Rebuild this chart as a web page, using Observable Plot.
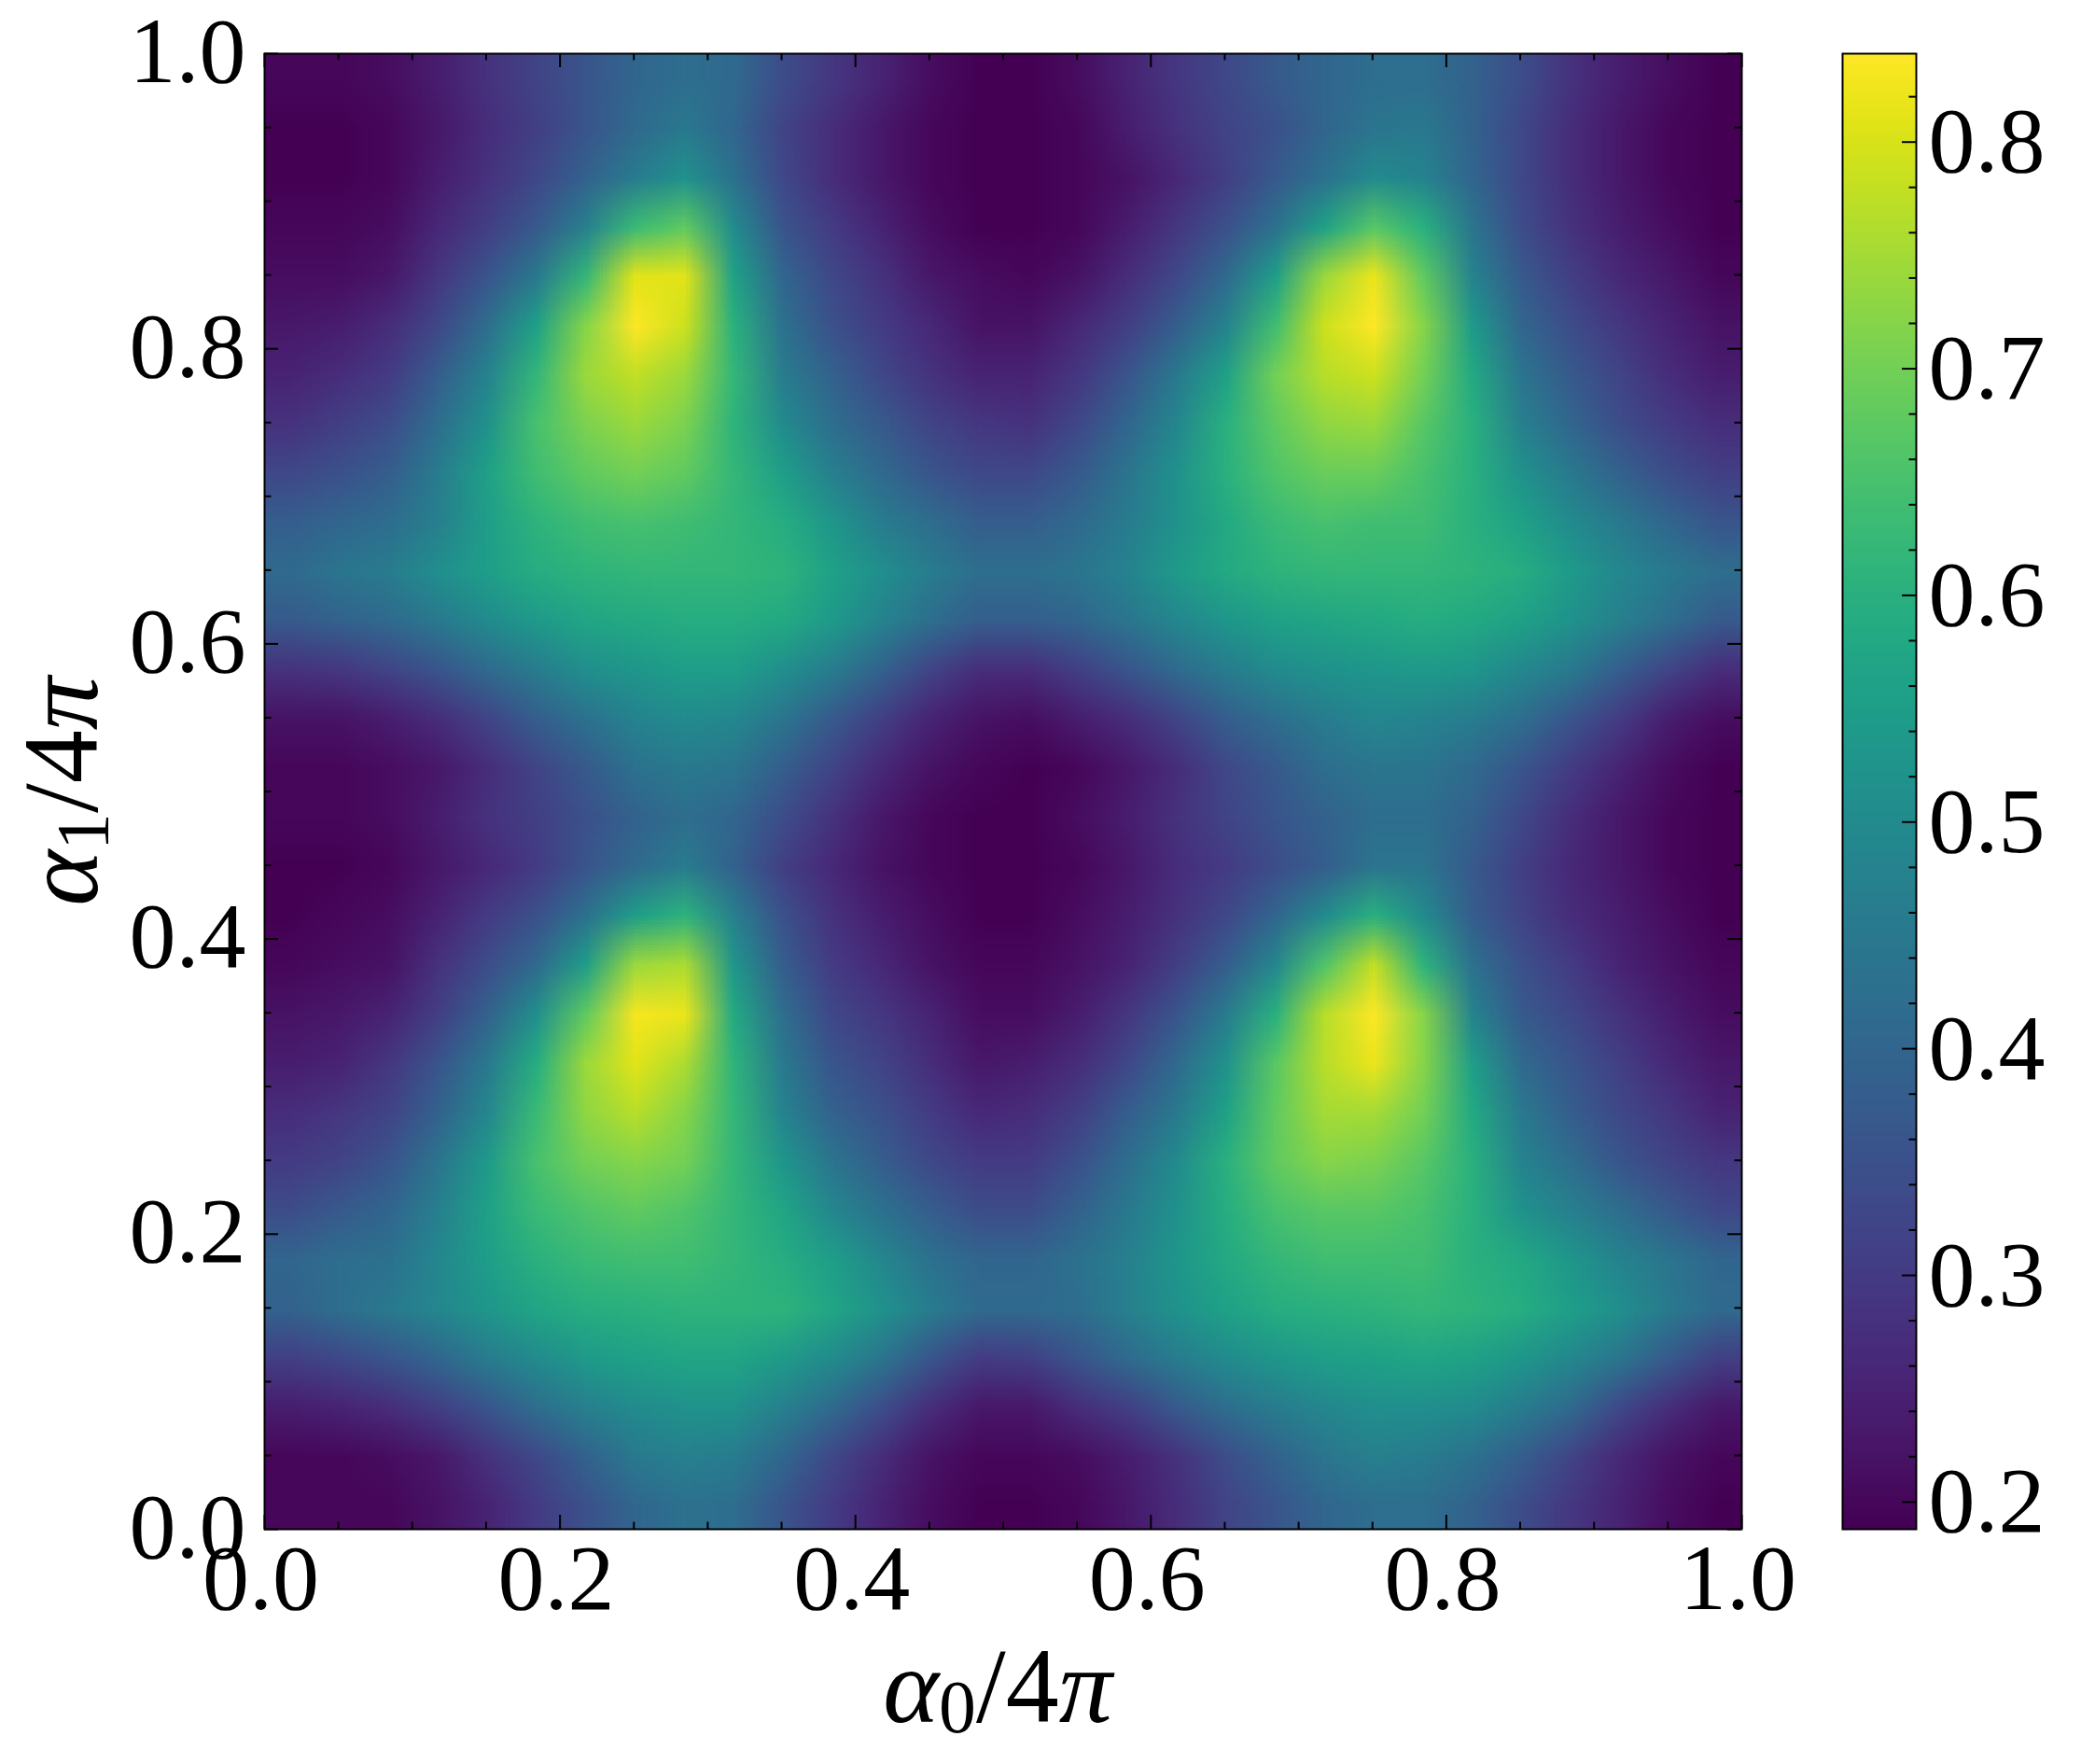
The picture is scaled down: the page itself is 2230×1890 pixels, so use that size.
<!DOCTYPE html>
<html>
<head>
<meta charset="utf-8">
<script src="https://cdn.jsdelivr.net/npm/d3@7"></script>
<script src="https://cdn.jsdelivr.net/npm/@observablehq/plot@0.6"></script>
<style>
html,body{margin:0;padding:0;background:#fff}
#chart{position:relative;width:2230px;height:1890px;overflow:hidden}
#chart svg{position:absolute;top:0;overflow:visible;background:transparent}
</style>
</head>
<body>
<div id="chart"></div>
<script>
// Values; rows run from top (y = 0.983) to bottom (y = 0.017),
// each row from x = 0.017 to x = 0.983, on a 30 x 30 grid of cells.
const gridSize = 30;
const zRows = [
[.20,.20,.21,.24,.28,.32,.36,.40,.42,.41,.34,.29,.25,.21,.19, .19,.21,.25,.29,.33,.37,.40,.42,.42,.39,.34,.28,.24,.21,.19],
[.19,.19,.20,.23,.27,.31,.36,.41,.45,.40,.32,.27,.23,.20,.19, .19,.20,.24,.28,.32,.35,.40,.44,.45,.39,.33,.27,.23,.20,.19],
[.19,.19,.20,.24,.28,.33,.39,.46,.52,.43,.33,.27,.23,.20,.19, .19,.20,.22,.26,.31,.37,.43,.50,.48,.40,.33,.27,.23,.20,.19],
[.20,.20,.21,.26,.31,.37,.47,.63,.68,.50,.36,.30,.25,.21,.19, .19,.20,.24,.29,.35,.43,.56,.67,.60,.44,.34,.28,.24,.21,.19],
[.21,.21,.23,.29,.36,.45,.62,.81,.81,.56,.40,.33,.28,.23,.21, .20,.22,.27,.33,.41,.55,.74,.82,.68,.48,.37,.31,.26,.23,.20],
[.23,.24,.27,.33,.42,.56,.72,.84,.79,.60,.43,.35,.30,.26,.22, .22,.26,.31,.38,.48,.64,.79,.84,.72,.54,.40,.34,.29,.25,.22],
[.25,.27,.30,.38,.48,.62,.74,.78,.74,.62,.46,.39,.33,.28,.25, .25,.29,.36,.45,.56,.70,.77,.79,.70,.58,.44,.37,.32,.27,.24],
[.28,.31,.34,.42,.52,.65,.71,.74,.71,.61,.50,.42,.37,.32,.29, .28,.33,.40,.49,.60,.68,.73,.74,.67,.60,.47,.40,.34,.30,.27],
[.33,.35,.38,.46,.56,.64,.68,.70,.68,.62,.55,.47,.41,.36,.33, .33,.37,.44,.52,.60,.66,.69,.69,.65,.60,.52,.45,.39,.34,.31],
[.38,.40,.42,.47,.55,.61,.64,.65,.64,.62,.59,.53,.46,.42,.38, .38,.41,.46,.52,.58,.63,.65,.64,.64,.60,.56,.50,.45,.40,.36],
[.41,.44,.46,.51,.55,.59,.61,.62,.62,.62,.61,.56,.51,.46,.42, .42,.44,.48,.54,.58,.61,.62,.62,.62,.61,.59,.54,.49,.45,.42],
[.37,.39,.41,.45,.50,.54,.57,.58,.59,.59,.58,.54,.48,.42,.38, .38,.40,.44,.49,.53,.56,.57,.58,.59,.58,.56,.52,.47,.42,.37],
[.28,.29,.32,.36,.41,.46,.51,.53,.55,.55,.51,.46,.39,.32,.27, .27,.31,.36,.41,.46,.50,.52,.53,.54,.53,.49,.45,.38,.32,.27],
[.22,.22,.24,.27,.32,.38,.43,.48,.50,.49,.44,.37,.31,.25,.22, .21,.24,.27,.32,.38,.42,.46,.49,.48,.46,.42,.36,.30,.24,.21],
[.20,.20,.21,.23,.27,.32,.37,.43,.45,.44,.38,.32,.26,.22,.20, .19,.20,.23,.27,.33,.37,.42,.44,.44,.41,.36,.30,.25,.21,.19],
[.20,.20,.21,.24,.28,.31,.35,.39,.42,.40,.34,.28,.23,.20,.19, .19,.21,.24,.28,.32,.36,.39,.42,.42,.39,.33,.27,.23,.20,.19],
[.19,.19,.20,.23,.26,.30,.36,.41,.46,.39,.31,.26,.22,.20,.19, .19,.20,.23,.27,.30,.34,.38,.44,.44,.37,.31,.26,.23,.20,.19],
[.19,.20,.21,.25,.30,.35,.43,.55,.61,.47,.35,.28,.24,.21,.19, .19,.21,.24,.28,.33,.40,.50,.60,.50,.38,.32,.27,.24,.21,.19],
[.20,.21,.22,.28,.34,.41,.55,.74,.76,.53,.38,.30,.26,.22,.20, .20,.22,.25,.31,.38,.49,.66,.78,.61,.43,.35,.30,.25,.22,.20],
[.22,.23,.25,.31,.39,.51,.68,.83,.82,.58,.42,.33,.29,.25,.21, .21,.24,.29,.36,.46,.60,.77,.84,.72,.48,.37,.33,.28,.24,.21],
[.24,.25,.29,.36,.45,.59,.74,.81,.76,.61,.45,.36,.32,.27,.23, .24,.27,.33,.41,.52,.67,.77,.82,.72,.55,.41,.36,.31,.26,.23],
[.27,.29,.32,.39,.49,.63,.73,.77,.72,.62,.48,.39,.35,.30,.26, .27,.31,.38,.45,.56,.68,.75,.75,.70,.58,.45,.38,.33,.29,.25],
[.30,.32,.36,.44,.54,.65,.70,.72,.70,.62,.53,.44,.38,.33,.30, .30,.35,.42,.50,.60,.68,.72,.71,.67,.60,.48,.42,.36,.32,.29],
[.34,.37,.40,.47,.56,.63,.66,.68,.66,.62,.57,.49,.43,.38,.34, .34,.39,.45,.52,.59,.65,.67,.67,.65,.60,.52,.47,.42,.37,.33],
[.40,.42,.43,.49,.55,.60,.63,.64,.64,.62,.59,.55,.49,.43,.40, .40,.43,.47,.53,.58,.62,.64,.64,.64,.60,.58,.53,.48,.44,.40],
[.39,.42,.45,.49,.53,.57,.59,.60,.61,.61,.61,.57,.52,.46,.41, .41,.42,.47,.52,.56,.59,.60,.61,.62,.61,.59,.55,.51,.45,.41],
[.31,.33,.36,.40,.46,.50,.54,.56,.57,.57,.54,.50,.44,.36,.30, .31,.36,.41,.46,.50,.53,.55,.56,.57,.56,.53,.49,.44,.37,.31],
[.24,.25,.27,.31,.36,.42,.47,.50,.52,.52,.47,.41,.34,.27,.23, .23,.27,.31,.37,.42,.46,.49,.51,.51,.50,.46,.41,.33,.27,.23],
[.20,.20,.21,.23,.28,.33,.39,.45,.47,.46,.40,.33,.27,.22,.20, .20,.21,.24,.28,.34,.39,.44,.47,.46,.43,.38,.32,.26,.22,.20],
[.20,.20,.20,.22,.25,.30,.35,.40,.43,.42,.36,.30,.25,.21,.19, .19,.20,.23,.27,.32,.36,.40,.42,.42,.39,.34,.29,.25,.21,.19]
];
const colorDomain = [0.188, 0.839];
const axisMajor = [0, 0.2, 0.4, 0.6, 0.8, 1];
const axisMinor = [0.05,0.1,0.15,0.25,0.3,0.35,0.45,0.5,0.55,0.65,0.7,0.75,0.85,0.9,0.95];
const barMajor = [0.2,0.3,0.4,0.5,0.6,0.7,0.8];
const barMinor = [0.22,0.24,0.26,0.28,0.32,0.34,0.36,0.38,0.42,0.44,0.46,0.48,0.52,0.54,0.56,0.58,0.62,0.64,0.66,0.68,0.72,0.74,0.76,0.78,0.82];
const xLabel = "α0/4π";
const yLabel = "α1/4π";

const W = 2230, H = 1890, L = 283, R = 1866, T = 57, B = 1638;
const pw = R - L, ph = B - T, serif = "'Liberation Serif','DejaVu Serif',serif";
const major = 15, minor = 7.5, sw = 2, tickFont = 100, labelFont = 114;
const color = {type: "linear", scheme: "viridis", domain: colorDomain};

const inwardX = (vals, len) => [
  Plot.tickX(vals, {x: d => d, insetTop: ph - len, stroke: "black", strokeWidth: sw}),
  Plot.tickX(vals, {x: d => d, insetBottom: ph - len, stroke: "black", strokeWidth: sw})
];
const inwardY = (vals, len) => [
  Plot.tickY(vals, {y: d => d, insetRight: pw - len, stroke: "black", strokeWidth: sw}),
  Plot.tickY(vals, {y: d => d, insetLeft: pw - len, stroke: "black", strokeWidth: sw})
];

const main = Plot.plot({
  width: W, height: H,
  marginLeft: L, marginRight: W - R, marginTop: T, marginBottom: H - B,
  style: {fontFamily: serif, background: "transparent", overflow: "visible"},
  x: {domain: [0, 1]},
  y: {domain: [0, 1]},
  color,
  marks: [
    Plot.raster(zRows.flat(), {width: gridSize, height: gridSize, x1: 0, x2: 1, y1: 1, y2: 0, fill: d => d, imageRendering: "auto"}),
    ...inwardX(axisMajor, major), ...inwardX(axisMinor, minor),
    ...inwardY(axisMajor, major), ...inwardY(axisMinor, minor),
    Plot.frame({stroke: "black", strokeWidth: sw}),
    Plot.axisX({ticks: axisMajor, tickFormat: ".1f", tickSize: 0, tickPadding: 14, fontSize: tickFont, label: null, fontFamily: serif, fill: "black", dx: -4}),
    Plot.axisY({ticks: axisMajor, tickFormat: ".1f", tickSize: 0, tickPadding: 20, fontSize: tickFont, label: null, fontFamily: serif, fill: "black", dy: -2}),
    Plot.text([xLabel], {text: d => d, frameAnchor: "bottom", dx: -6, dy: 206, fontSize: labelFont, fontFamily: serif, fill: "black", letterSpacing: 2}),
    Plot.text([yLabel], {text: d => d, frameAnchor: "left", textAnchor: "middle", rotate: -90, dx: -216, fontSize: labelFont, fontFamily: serif, fill: "black", letterSpacing: 2})
  ]
});
main.style.left = "0px";

const barLeft = 1974, barRight = 2053;
const barLevels = d3.range(256).map(i => colorDomain[1] - (i + 0.5) / 256 * (colorDomain[1] - colorDomain[0]));
const barW = barRight - barLeft;
const bar = Plot.plot({
  width: W, height: H,
  marginLeft: barLeft, marginRight: W - barRight, marginTop: T, marginBottom: H - B,
  style: {fontFamily: serif, background: "transparent", overflow: "visible"},
  x: {domain: [0, 1], axis: null},
  y: {domain: colorDomain, axis: null},
  color,
  marks: [
    Plot.raster(barLevels, {width: 1, height: 256, x1: 0, x2: 1, y1: colorDomain[1], y2: colorDomain[0], fill: d => d}),
    Plot.tickY(barMajor, {y: d => d, insetLeft: barW - major, stroke: "black", strokeWidth: sw}),
    Plot.tickY(barMinor, {y: d => d, insetLeft: barW - minor, stroke: "black", strokeWidth: sw}),
    Plot.frame({stroke: "black", strokeWidth: sw}),
    Plot.axisY({anchor: "right", ticks: barMajor, tickFormat: ".1f", tickSize: 0, tickPadding: 13, fontSize: tickFont, label: null, fontFamily: serif, fill: "black"})
  ]
});
bar.style.left = "0px";

const chart = document.getElementById("chart");
chart.append(main, bar);

// Italic Greek letters and a lowered subscript inside the axis titles.
d3.select(main).selectAll("text").filter(function () { return [xLabel, yLabel].includes(this.textContent); })
  .each(function () {
    const t = this.textContent, tspan = d3.select(this).selectChild("tspan");
    const target = tspan.empty() ? d3.select(this) : tspan;
    target.text(null);
    target.append("tspan").attr("font-style", "italic").text(t[0]);
    target.append("tspan").attr("font-size", "0.7em").attr("dy", "0.15em").text(t[1]);
    target.append("tspan").attr("dy", "-0.105em").text("/4");
    target.append("tspan").attr("font-style", "italic").text("π");
  });
</script>
</body>
</html>
